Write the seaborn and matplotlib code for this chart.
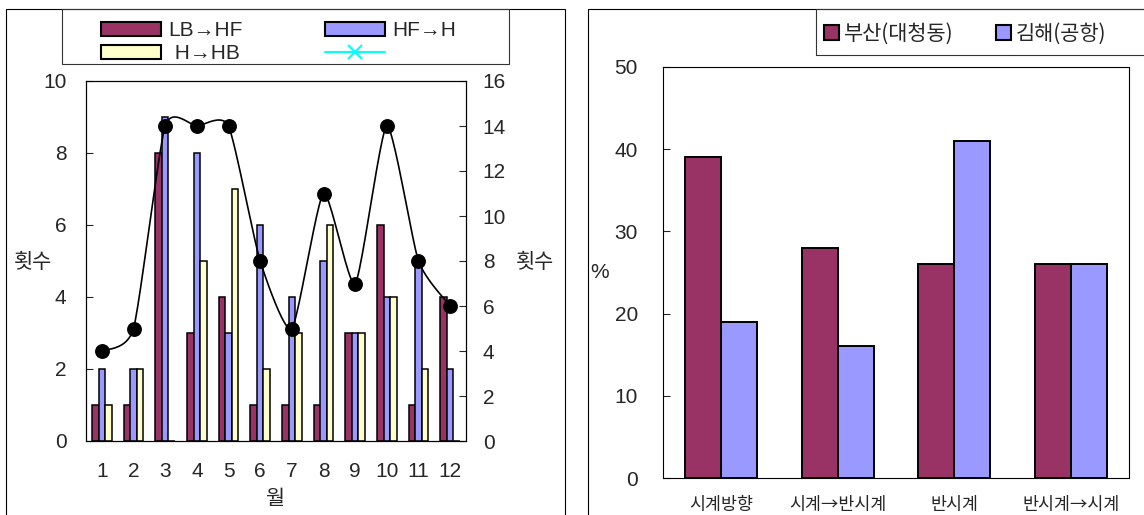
import numpy as np
import pandas as pd
import matplotlib
matplotlib.use("Agg")
import matplotlib.pyplot as plt
import seaborn as sns
from matplotlib.patches import Rectangle, Patch
from matplotlib.lines import Line2D

# ---- monthly counts (left chart) ----
months = [str(m) for m in range(1, 13)]
series_names = ["LB→HF", "HF→H", "H→HB"]
lb_hf = [1, 1, 8, 3, 4, 1, 1, 1, 3, 6, 1, 4]
hf_h = [2, 2, 9, 8, 3, 6, 4, 5, 3, 4, 5, 2]
h_hb = [1, 2, 0, 5, 7, 2, 3, 6, 3, 4, 2, 0]
monthly_total = [4, 5, 14, 14, 14, 8, 5, 11, 7, 14, 8, 6]

# ---- rotation direction shares (right chart) ----
directions = ["시계방향", "시계→반시계", "반시계", "반시계→시계"]
stations = ["부산(대청동)", "김해(공항)"]
busan = [39, 28, 26, 26]
gimhae = [19, 16, 41, 26]

MAROON = "#993366"
BLUE = "#9999FF"
CREAM = "#FFFFCC"

sns.set_style("white")
plt.rcParams["font.family"] = ["Liberation Sans", "Noto Sans CJK KR", "DejaVu Sans"]
KR = ["Noto Sans CJK KR", "DejaVu Sans"]
NUM_SIZE = 15

W, H = 1144, 515
fig = plt.figure(figsize=(W / 100, H / 100), dpi=100)


def px_box(x0, y0, x1, y1):
    return [x0 / W, 1 - y1 / H, (x1 - x0) / W, (y1 - y0) / H]


def smooth_curve(xs, ys, k=0.1, n=24):
    """Piecewise cubic Bezier through the points (chart-style smoothed line)."""
    pts = np.column_stack([xs, ys]).astype(float)
    P = np.vstack([pts[0], pts, pts[-1]])
    t = np.linspace(0, 1, n)[:, None]
    segs = []
    for i in range(1, len(P) - 2):
        p0, p1, p2, p3 = P[i - 1], P[i], P[i + 1], P[i + 2]
        c1 = p1 + (p2 - p0) * k
        c2 = p2 - (p3 - p1) * k
        segs.append((1 - t) ** 3 * p1 + 3 * (1 - t) ** 2 * t * c1
                    + 3 * (1 - t) * t ** 2 * c2 + t ** 3 * p2)
    return np.vstack(segs)


# outer panel borders
for x0, x1 in [(6, 565), (588, 1150)]:
    fig.add_artist(Rectangle((x0 / W, 1 - 525 / H), (x1 - x0) / W, (525 - 9) / H,
                             transform=fig.transFigure, fill=False,
                             edgecolor="black", lw=0.8))

# ================= left chart =================
ax1 = fig.add_axes(px_box(86, 81, 466, 441))
df1 = pd.DataFrame({
    "월": months * 3,
    "횟수": lb_hf + hf_h + h_hb,
    "구분": [s for s in series_names for _ in months],
})
sns.barplot(data=df1, x="월", y="횟수", hue="구분", order=months,
            hue_order=series_names, palette=[MAROON, BLUE, CREAM],
            saturation=1, width=0.63, edgecolor="black", linewidth=1.1,
            legend=False, ax=ax1)
ax1.set_xlim(-0.5, 11.5)
ax1.set_ylim(0, 10)
ax1.set_yticks(range(0, 11, 2))
ax1.set_xlabel("")
ax1.set_ylabel("")
ax1.set_xticks(np.arange(-0.5, 12, 1), minor=True)
ax1.tick_params(axis="x", which="major", length=0, pad=15, labelsize=NUM_SIZE)
ax1.tick_params(axis="x", which="minor", direction="in", length=5, width=0.8, color="#555555")
ax1.tick_params(axis="y", direction="in", length=5, width=0.8, pad=14, labelsize=NUM_SIZE, left=True)
for sp in ax1.spines.values():
    sp.set_visible(True)
    sp.set_color("black")
    sp.set_linewidth(0.8)

ax2 = ax1.twinx()
ax2.set_ylim(0, 16)
ax2.set_yticks(range(0, 17, 2))
xs = np.arange(len(months))
curve = smooth_curve(xs, monthly_total)
ax2.plot(curve[:, 0], curve[:, 1], color="black", lw=1.2, zorder=4)
sns.scatterplot(x=xs, y=monthly_total, ax=ax2, color="black", s=115,
                edgecolor="black", linewidth=0, zorder=5, legend=False)
ax2.set_xlim(-0.5, 11.5)
ax2.set_ylabel("")
ax2.tick_params(axis="y", direction="in", length=5, width=0.8, pad=12, labelsize=NUM_SIZE, right=True)
for sp in ax2.spines.values():
    sp.set_color("black")
    sp.set_linewidth(0.8)

fig.text(33 / W, 1 - 262 / H, "횟수", family=KR, fontsize=15, ha="center", va="center")
fig.text(535 / W, 1 - 262 / H, "횟수", family=KR, fontsize=15, ha="center", va="center")
fig.text(275 / W, 1 - 499 / H, "월", family=KR, fontsize=15, ha="center", va="center")

# legend box and its two columns
fig.add_artist(Rectangle((62 / W, 1 - 64 / H), (509 - 62) / W, (64 - 9) / H,
                         transform=fig.transFigure, fill=False, edgecolor="#333333", lw=0.8))
leg_kw = dict(loc="upper left", bbox_transform=fig.transFigure, frameon=False,
              fontsize=NUM_SIZE, borderpad=0, borderaxespad=0, handlelength=2.9,
              handleheight=0.68, handletextpad=0.35, labelspacing=0.2)
fig.legend(handles=[Patch(facecolor=MAROON, edgecolor="black", lw=1.5),
                    Patch(facecolor=CREAM, edgecolor="black", lw=1.5)],
           labels=["LB→HF", " H→HB"], bbox_to_anchor=(101 / W, 1 - 21 / H), **leg_kw)
fig.legend(handles=[Patch(facecolor=BLUE, edgecolor="black", lw=1.5),
                    Line2D([], [], color="cyan", lw=1.5, marker="x",
                           markersize=10, markeredgewidth=1.5)],
           labels=["HF→H", ""], bbox_to_anchor=(325 / W, 1 - 21 / H), **leg_kw)

# ================= right chart =================
ax3 = fig.add_axes(px_box(663, 67, 1129, 478))
df2 = pd.DataFrame({
    "방향": directions * 2,
    "비율": busan + gimhae,
    "관측소": [s for s in stations for _ in directions],
})
sns.barplot(data=df2, x="방향", y="비율", hue="관측소", order=directions,
            hue_order=stations, palette=[MAROON, BLUE], saturation=1,
            width=0.62, edgecolor="black", linewidth=1.4, legend=False, ax=ax3)
ax3.set_xlim(-0.5, 3.5)
ax3.set_ylim(0, 50)
ax3.set_yticks(range(0, 51, 10))
ax3.set_xlabel("")
ax3.set_ylabel("")
ax3.set_xticks(np.arange(-0.5, 4, 1), minor=True)
ax3.tick_params(axis="x", which="major", length=0, pad=13)
ax3.tick_params(axis="x", which="minor", direction="in", length=5, width=0.8, color="#555555")
for lab in ax3.get_xticklabels():
    lab.set_family(KR)
    lab.set_fontsize(12.5)
ax3.tick_params(axis="y", direction="in", length=5, width=0.8, pad=18, labelsize=NUM_SIZE, left=True)
for sp in ax3.spines.values():
    sp.set_visible(True)
    sp.set_color("black")
    sp.set_linewidth(0.8)

fig.text(600 / W, 1 - 272 / H, "%", fontsize=NUM_SIZE, ha="center", va="center")

fig.add_artist(Rectangle((816 / W, 1 - 55 / H), (1150 - 816) / W, (55 - 9) / H,
                         transform=fig.transFigure, fill=False, edgecolor="#333333", lw=0.8))
kr_kw = dict(loc="upper left", bbox_transform=fig.transFigure, frameon=False,
             prop={"family": KR, "size": 15}, borderpad=0, borderaxespad=0,
             handlelength=0.72, handleheight=0.72, handletextpad=0.25)
fig.legend(handles=[Patch(facecolor=MAROON, edgecolor="black", lw=1.5)],
           labels=[stations[0]], bbox_to_anchor=(824 / W, 1 - 23 / H), **kr_kw)
fig.legend(handles=[Patch(facecolor=BLUE, edgecolor="black", lw=1.5)],
           labels=[stations[1]], bbox_to_anchor=(996 / W, 1 - 23 / H), **kr_kw)

fig.savefig("out.png", dpi=100, facecolor="white")
